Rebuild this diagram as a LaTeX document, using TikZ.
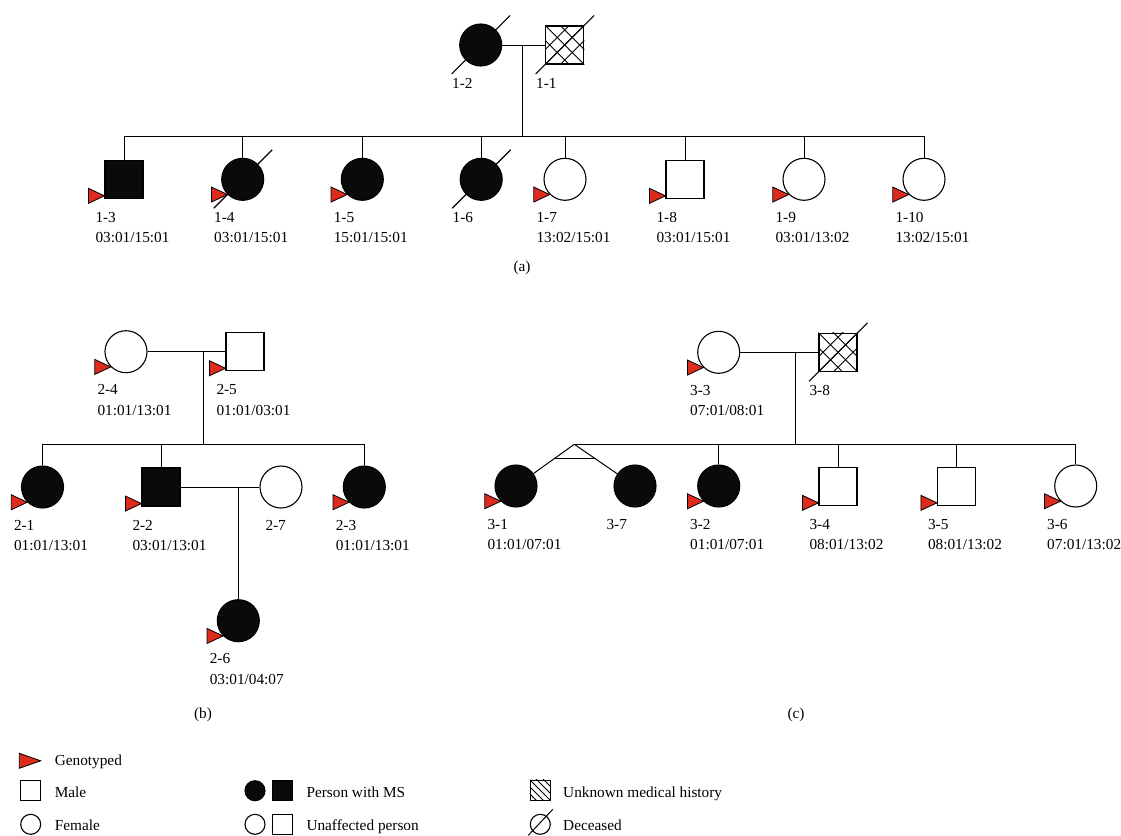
\documentclass[tikz,border=0pt]{standalone}
\usepackage{fontspec}
\setmainfont{Liberation Serif}
\usetikzlibrary{calc,backgrounds}
\definecolor{gred}{RGB}{221,44,30}
\definecolor{msblack}{RGB}{10,10,10}
\begin{document}
\begin{tikzpicture}[x=1pt,y=-1pt,line width=1pt,
  fem/.style={circle,draw,minimum size=42pt,inner sep=0pt,line width=1.1pt},
  mal/.style={rectangle,draw,minimum size=38pt,inner sep=0pt,line width=1.1pt},
  aff/.style={fill=msblack},
  lab/.style={font=\fontsize{15.3}{17}\selectfont,inner sep=0pt,anchor=base west},
  captext/.style={font=\fontsize{15.3}{17}\selectfont,inner sep=0pt},
  smf/.style={circle,draw,minimum size=20pt,inner sep=0pt,line width=1.1pt},
  smm/.style={rectangle,draw,minimum size=20pt,inner sep=0pt,line width=1.1pt},
  slash/.style={draw,line width=1.1pt,black},
  pics/geno/.style={code={\draw[fill=gred,line width=0.8pt,line join=miter] (0,0) -- (-16,-7.5) -- (-16,7.5) -- cycle;}}
]
\useasboundingbox (0,0) rectangle (1121,835);

% ---------- helpers
\newcommand\plabel[3]{% node, id, genotype
  \node[lab] at ($(#1.center)+(-29,43)$) {#2};
  \node[lab] at ($(#1.center)+(-29,63.5)$) {#3};}
\newcommand\decsl[1]{\begin{scope}[on background layer]\draw[slash] ($(#1.center)+(-29,29)$) -- ($(#1.center)+(29.5,-29.5)$);\end{scope}}
\newcommand\genoc[1]{\pic at (#1.225) {geno};}
\newcommand\genos[1]{\pic at ($(#1.south west)+(0,-3)$) {geno};}
\newcommand\drop[2]{\draw (#1.north) -- (#1.north |- #2);}
\newcommand\xhatch[1]{%
  \begin{scope}
    \clip (#1.south west) rectangle (#1.north east);
    \foreach \d in {-15,0,15}{
      \draw[line width=0.9pt] ($(#1.center)+(\d-40,-40)$) -- ($(#1.center)+(\d+40,40)$);
      \draw[line width=0.9pt] ($(#1.center)+(\d-40,40)$) -- ($(#1.center)+(\d+40,-40)$);
    }
  \end{scope}}

% ================= (a)
\node[fem,aff] (p12) at (480.7,45) {};
\node[mal] (p11) at (564.7,45) {};
\xhatch{p11}
\node[mal] at (564.7,45) {};
\decsl{p12}\decsl{p11}
\node[lab] (l12) at (451.7,88) {1-2};
\node[lab] (l11) at (535.7,88) {1-1};
\coordinate (ma) at (522.7,45);
\coordinate (ja) at (522.7,136);
\draw (p12.east) -- (p11.west);
\draw (ma) -- (ja);

\node[mal,aff] (p13) at (124,179.3) {};
\node[fem,aff] (p14) at (242.7,179.3) {};
\node[fem,aff] (p15) at (362.3,179.3) {};
\node[fem,aff] (p16) at (481.2,179.3) {};
\node[fem] (p17) at (565,179.3) {};
\node[mal] (p18) at (685,179.3) {};
\node[fem] (p19) at (804,179.3) {};
\node[fem] (p110) at (924,179.3) {};
\draw (p13.north |- ja) -- (p110.north |- ja);
\foreach \n in {p13,p14,p15,p16,p17,p18,p19,p110}{\drop{\n}{ja}}
\decsl{p14}\decsl{p16}
\genos{p13}\genoc{p14}\genoc{p15}\genoc{p17}\genos{p18}\genoc{p19}\genoc{p110}
\plabel{p13}{1-3}{03:01/15:01}
\plabel{p14}{1-4}{03:01/15:01}
\plabel{p15}{1-5}{15:01/15:01}
\node[lab] at ($(p16.center)+(-29,43)$) {1-6};
\plabel{p17}{1-7}{13:02/15:01}
\plabel{p18}{1-8}{03:01/15:01}
\plabel{p19}{1-9}{03:01/13:02}
\plabel{p110}{1-10}{13:02/15:01}
\node[captext] (capa) at (522,268) {(a)};

% ================= (b)
\node[fem] (p24) at (126,351.7) {};
\node[mal] (p25) at (245,351.7) {};
\coordinate (mb) at (203.3,351.7);
\coordinate (jb) at (203.3,444.3);
\draw (p24.east) -- (p25.west);
\draw (mb) -- (jb);
\genoc{p24}\genos{p25}
\plabel{p24}{2-4}{01:01/13:01}
\plabel{p25}{2-5}{01:01/03:01}

\node[fem,aff] (p21) at (42.5,487) {};
\node[mal,aff] (p22) at (161,487) {};
\node[fem] (p27) at (281,487) {};
\node[fem,aff] (p23) at (364.3,487) {};
\draw (p21.north |- jb) -- (p23.north |- jb);
\foreach \n in {p21,p22,p23}{\drop{\n}{jb}}
\draw (p22.east) -- (p27.west);
\coordinate (m2) at (238.3,487);
\node[fem,aff] (p26) at (238.3,620.7) {};
\draw (m2) -- (p26.north);
\genoc{p21}\genos{p22}\genoc{p23}\genoc{p26}
\plabel{p21}{2-1}{01:01/13:01}
\plabel{p22}{2-2}{03:01/13:01}
\plabel{p23}{2-3}{01:01/13:01}
\node[lab] at ($(p27.center)+(-16,43)$) {2-7};
\plabel{p26}{2-6}{03:01/04:07}
\node[captext] (capb) at (203,715) {(b)};

% ================= (c)
\node[fem] (p33) at (718.7,352.3) {};
\node[mal] (p38) at (838,352.3) {};
\xhatch{p38}
\node[mal] at (838,352.3) {};
\decsl{p38}
\coordinate (mc) at (795.7,352.3);
\coordinate (jc) at (795.7,444.3);
\coordinate (tw) at (574.3,444.3);
\draw (p33.east) -- (p38.west);
\draw (mc) -- (jc);
\genoc{p33}
\plabel{p33}{3-3}{07:01/08:01}
\node[lab] at ($(p38.center)+(-29,43)$) {3-8};

\node[fem,aff] (p31) at (516,486) {};
\node[fem,aff] (p37) at (635,486) {};
\node[fem,aff] (p32) at (718.7,486) {};
\node[mal] (p34) at (838,486.3) {};
\node[mal] (p35) at (956.5,486.3) {};
\node[fem] (p36) at (1075.7,486) {};
\draw (tw) -- (p36.north |- jc);
\foreach \n in {p32,p34,p35,p36}{\drop{\n}{jc}}
\draw (tw) -- (p31);
\draw (tw) -- (p37);
\draw ($(tw)!0.35!(p31.center)$) -- ($(tw)!0.35!(p37.center)$);
\genoc{p31}\genoc{p32}\genos{p34}\genos{p35}\genoc{p36}
\plabel{p31}{3-1}{01:01/07:01}
\node[lab] at ($(p37.center)+(-29,43)$) {3-7};
\plabel{p32}{3-2}{01:01/07:01}
\plabel{p34}{3-4}{08:01/13:02}
\plabel{p35}{3-5}{08:01/13:02}
\plabel{p36}{3-6}{07:01/13:02}
\node[captext] (capc) at (796,715) {(c)};

% ================= legend
\draw[fill=gred,line width=0.8pt,line join=miter] (19.3,753.3) -- (40.7,760.8) -- (19.3,768.3) -- cycle;
\node[lab] (tg) at (54.3,765.5) {Genotyped};
\node[smm] (lm) at (30.7,790.7) {};
\node[lab] (tm) at (54.3,797) {Male};
\node[smf] (lf) at (30.7,824.3) {};
\node[lab] (tf) at (54.3,830.7) {Female};
\node[smf,aff] (la1) at (255,790.7) {};
\node[smm,aff] (la2) at (282.8,790.7) {};
\node[lab] (ta) at (306,797) {Person with MS};
\node[smf] (lu1) at (255,824.3) {};
\node[smm] (lu2) at (282.8,824.3) {};
\node[lab] (tu) at (306,830.7) {Unaffected person};
\node[smm] (lh) at (540.3,790.3) {};
\begin{scope}
  \clip (lh.south west) rectangle (lh.north east);
  \foreach \d in {-14,-7,0,7,14}{
    \draw[line width=0.9pt] ($(lh.center)+(\d-20,-20)$) -- ($(lh.center)+(\d+20,20)$);
  }
\end{scope}
\node[smm] at (540.3,790.3) {};
\node[lab] (th) at (562.7,797) {Unknown medical history};
\node[smf] (ld) at (540.3,824.3) {};
\draw ($(ld.center)+(-12,11)$) -- ($(ld.center)+(12.5,-15)$);
\node[lab] (td) at (562.7,830.7) {Deceased};
\end{tikzpicture}
\end{document}
